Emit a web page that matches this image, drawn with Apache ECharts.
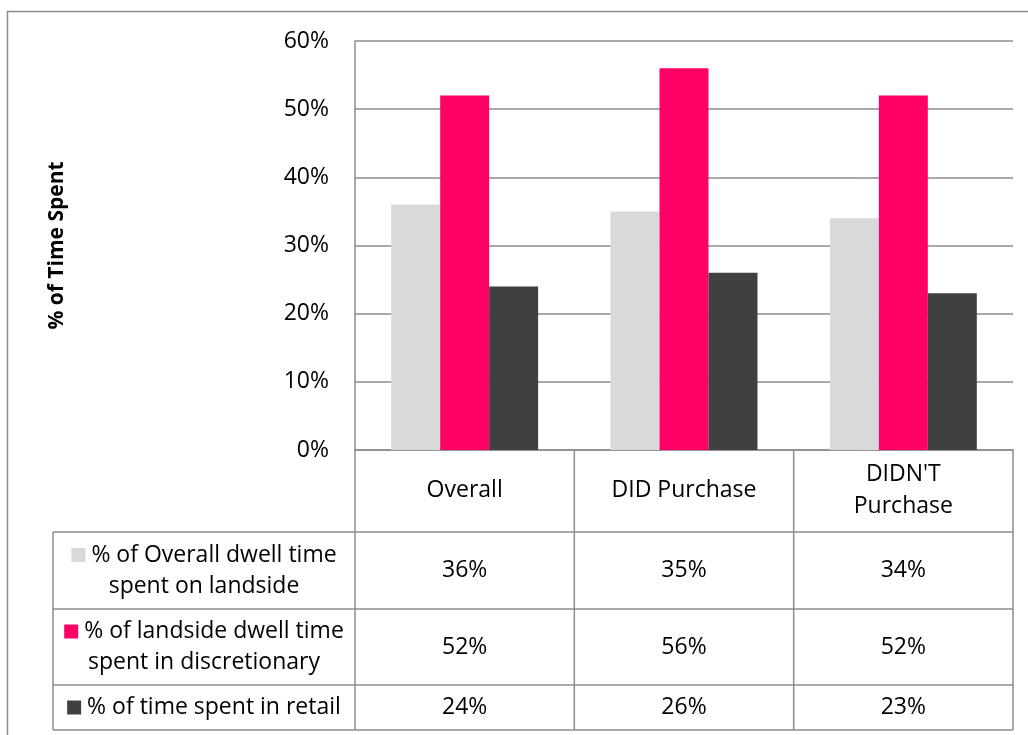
<!DOCTYPE html>
<html>
<head>
<meta charset="utf-8">
<script src="https://cdn.jsdelivr.net/npm/echarts@6/dist/echarts.min.js"></script>
<style>
html,body{margin:0;padding:0;background:#fff;}
#chart{width:1028px;height:735px;}
</style>
</head>
<body>
<div id="chart"></div>
<script>
// ---- data ----
const categories = ['Overall', 'DID Purchase', "DIDN'T\nPurchase"];
const seriesNames = [
  '% of Overall dwell time spent on landside',
  '% of landside dwell time spent in discretionary',
  '% of time spent in retail'
];
const rowLabelLines = [
  ['% of Overall dwell time', 'spent on landside'],
  ['% of landside dwell time', 'spent in discretionary'],
  ['% of time spent in retail']
];
const landside = [36, 35, 34];
const discretionary = [52, 56, 52];
const retail = [24, 26, 23];
const yTicks = [0, 10, 20, 30, 40, 50, 60];
const axisTitle = '% of Time Spent';

// ---- style ----
const colors = ['#d9d9d9', '#ff0066', '#404040'];
const lineColor = '#8c8c8c';
const FONT = '"Open Sans", "Liberation Sans", sans-serif';
const FS = 23;

const chart = echarts.init(document.getElementById('chart'), null, {renderer: 'canvas'});
const allSeries = [landside, discretionary, retail];

const option = {
  animation: false,
  backgroundColor: '#fff',
  textStyle: {fontFamily: FONT},
  grid: {left: 355, top: 41, right: 15, bottom: 285, containLabel: false},
  xAxis: {
    type: 'category',
    data: categories,
    axisLine: {show: true, lineStyle: {color: lineColor, width: 1.5}},
    axisTick: {show: false},
    axisLabel: {
      margin: 40, verticalAlign: 'middle', color: '#000',
      fontSize: FS, fontFamily: FONT, lineHeight: 32, align: 'center'
    },
    splitLine: {show: false}
  },
  yAxis: {
    type: 'value',
    min: yTicks[0], max: yTicks[yTicks.length - 1], interval: 10,
    name: axisTitle,
    nameLocation: 'middle',
    nameGap: 287,
    nameRotate: 90,
    nameTextStyle: {fontSize: 21, fontWeight: 'bold', color: '#000', fontFamily: FONT},
    axisLine: {show: true, lineStyle: {color: lineColor, width: 1.5}},
    axisTick: {show: false},
    axisLabel: {
      formatter: '{value}%', color: '#000', fontSize: FS, fontFamily: FONT, margin: 26
    },
    splitLine: {show: true, lineStyle: {color: lineColor, width: 1.5}}
  },
  series: allSeries.map((d, i) => ({
    type: 'bar',
    name: seriesNames[i],
    data: d,
    barGap: '0%',
    barCategoryGap: '33%',
    itemStyle: {color: colors[i]},
    silent: true
  }))
};
chart.setOption(option);

// ---- data table below the axis, positioned from the axis scale ----
const centers = categories.map(c => chart.convertToPixel({xAxisIndex: 0}, c));
const band = centers[1] - centers[0];
const bounds = [centers[0] - band / 2];
centers.forEach(c => bounds.push(c + band / 2));
const y0 = chart.convertToPixel({yAxisIndex: 0}, 0);
const tableLeft = 53;
const rowEdges = [y0, 532, 609, 685, 730];
const g = [];
const L = (x1, y1, x2, y2) => g.push({
  type: 'line', silent: true, z: 10,
  shape: {x1, y1, x2, y2},
  style: {stroke: lineColor, lineWidth: 1.5}
});
// vertical lines
bounds.forEach(x => L(x, y0, x, rowEdges[4]));
L(tableLeft, rowEdges[1], tableLeft, rowEdges[4]);
// horizontal lines
for (let r = 1; r <= 4; r++) L(tableLeft, rowEdges[r], bounds[bounds.length - 1], rowEdges[r]);

// values
allSeries.forEach((d, r) => {
  const cy = (rowEdges[r + 1] + rowEdges[r + 2]) / 2;
  d.forEach((v, i) => g.push({
    type: 'text', silent: true, z: 11,
    x: centers[i], y: cy,
    style: {text: v + '%', fill: '#000', fontSize: FS, fontFamily: FONT, align: 'center', verticalAlign: 'middle'}
  }));
  const lines = rowLabelLines[r];
  const txt = '{k|}' + '{t| ' + lines[0] + '}' + (lines.length > 1 ? '\n{t|' + lines[1] + '}' : '');
  g.push({
    type: 'text', silent: true, z: 11,
    x: (tableLeft + bounds[0]) / 2, y: cy,
    style: {
      text: txt, align: 'center', verticalAlign: 'middle',
      fontSize: FS, fontFamily: FONT, fill: '#000', lineHeight: 31,
      rich: {
        k: {width: 14, height: 14, backgroundColor: colors[r]},
        t: {fontSize: FS, fontFamily: FONT, fill: '#000', lineHeight: 31}
      }
    }
  });
});

// outer chart border
g.push({
  type: 'rect', silent: true, z: 0,
  shape: {x: 7.5, y: 11.5, width: 1100, height: 800},
  style: {fill: 'none', stroke: lineColor, lineWidth: 1.5}
});

chart.setOption({graphic: g});
</script>
</body>
</html>
